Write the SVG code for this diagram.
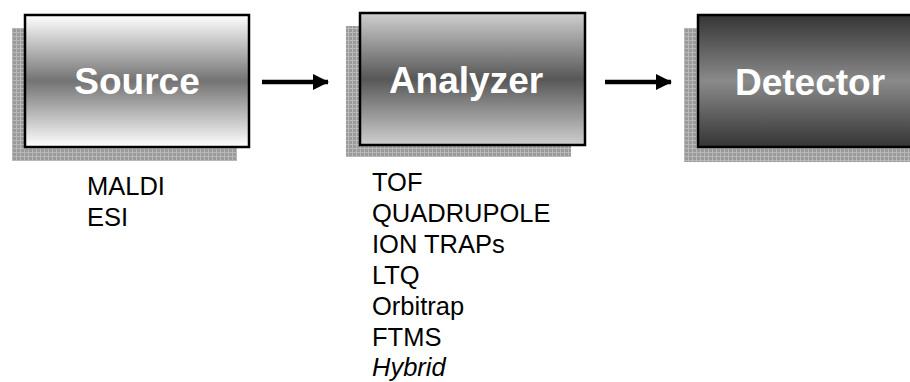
<svg xmlns="http://www.w3.org/2000/svg" width="910" height="382" viewBox="0 0 910 382">
<style>
.box{stroke:#000;stroke-width:2.5}
.shadow{fill:url(#grid)}
.title{font-family:"Liberation Sans",Arial,sans-serif;font-weight:bold;font-size:37px;fill:#fff;text-anchor:middle}
.list{font-family:"Liberation Sans",Arial,sans-serif;font-size:25.5px;fill:#000}
.conn{stroke:#000;stroke-width:4.5;fill:none}
</style>
<defs>
<pattern id="grid" width="4" height="4" patternUnits="userSpaceOnUse">
<rect width="4" height="4" fill="#b8b8b8"/>
<rect x="1" y="1" width="3" height="3" fill="#9a9a9a"/>
</pattern>
<linearGradient id="gSource" x1="0" y1="0" x2="0" y2="1">
<stop offset="0" stop-color="#ffffff"/>
<stop offset="0.5" stop-color="#737373"/>
<stop offset="1" stop-color="#ffffff"/>
</linearGradient>
<linearGradient id="gAnalyzer" x1="0" y1="0" x2="0" y2="1">
<stop offset="0" stop-color="#cfcfcf"/>
<stop offset="0.5" stop-color="#575757"/>
<stop offset="1" stop-color="#cfcfcf"/>
</linearGradient>
<linearGradient id="gDetector" x1="0" y1="0" x2="0" y2="1">
<stop offset="0" stop-color="#353535"/>
<stop offset="0.5" stop-color="#8a8a8a"/>
<stop offset="1" stop-color="#353535"/>
</linearGradient>
<marker id="arrow" markerWidth="16" markerHeight="16" viewBox="0 0 16 16" refX="15" refY="8" orient="auto" markerUnits="userSpaceOnUse">
<path d="M0,0 L16,8 L0,16 Z" fill="#000"/>
</marker>
</defs>
<g id="source">
<rect class="shadow" x="12" y="28" width="225" height="133"/>
<rect class="box" x="25" y="15" width="224" height="132" fill="url(#gSource)"/>
<text class="title" x="137" y="94">Source</text>
<text class="list" x="87" y="195">MALDI</text>
<text class="list" x="87" y="226">ESI</text>
</g>
<g id="analyzer">
<rect class="shadow" x="346" y="26" width="225" height="131"/>
<rect class="box" x="360" y="13" width="225" height="132" fill="url(#gAnalyzer)"/>
<text class="title" x="466" y="93">Analyzer</text>
<text class="list" x="372" y="191">TOF</text>
<text class="list" x="372" y="222">QUADRUPOLE</text>
<text class="list" x="372" y="253">ION TRAPs</text>
<text class="list" x="372" y="284">LTQ</text>
<text class="list" x="372" y="315">Orbitrap</text>
<text class="list" x="372" y="346">FTMS</text>
<text class="list" x="372" y="376" font-style="italic">Hybrid</text>
</g>
<g id="detector">
<rect class="shadow" x="684" y="28" width="240" height="134"/>
<rect class="box" x="698" y="15" width="230" height="132" fill="url(#gDetector)"/>
<text class="title" x="810" y="95">Detector</text>
</g>
<g id="connectors">
<line class="conn" x1="262" y1="82" x2="328" y2="82" marker-end="url(#arrow)"/>
<line class="conn" x1="605" y1="82" x2="671" y2="82" marker-end="url(#arrow)"/>
</g>
</svg>
